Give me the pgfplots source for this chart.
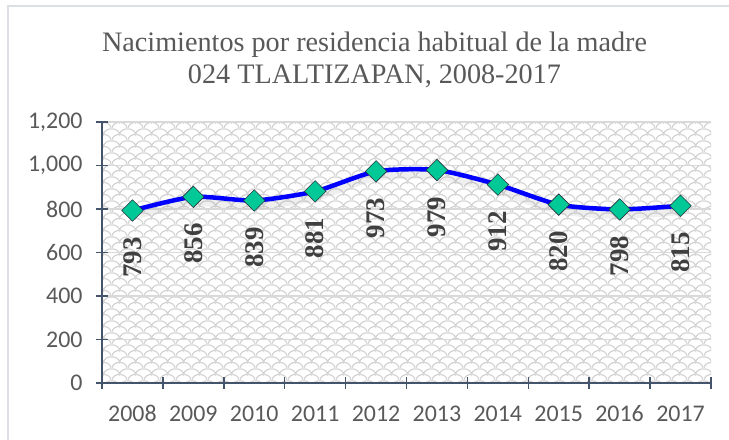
\documentclass[border=0pt]{standalone}
\usepackage{pgfplots}
\pgfplotsset{compat=1.18}
\usepackage{fontspec}
\setmainfont{Liberation Serif}
\newfontfamily\carlito{Carlito}
\usetikzlibrary{patterns.meta}
\definecolor{axisc}{RGB}{68,84,106}
\definecolor{txt}{RGB}{89,89,89}
\definecolor{lbl}{RGB}{64,64,64}
\definecolor{mk}{RGB}{0,200,150}
\definecolor{gridc}{RGB}{217,217,217}
\definecolor{hatch}{RGB}{212,212,212}
\definecolor{framec}{RGB}{220,224,230}

\pgfdeclarepattern{
  name=shingle, type=uncolored,
  bottom left={\pgfpoint{0bp}{0bp}},
  top right={\pgfpoint{16bp}{12bp}},
  tile size={\pgfpoint{16bp}{12bp}},
  code={
    \pgfsetlinewidth{1.3bp}
    \pgfpathmoveto{\pgfpoint{0bp}{0bp}}
    \pgfpathcurveto{\pgfpoint{1bp}{8bp}}{\pgfpoint{15bp}{8bp}}{\pgfpoint{16bp}{0bp}}
    \pgfpathmoveto{\pgfpoint{-8bp}{6bp}}
    \pgfpathcurveto{\pgfpoint{-7bp}{14bp}}{\pgfpoint{7bp}{14bp}}{\pgfpoint{8bp}{6bp}}
    \pgfpathcurveto{\pgfpoint{9bp}{14bp}}{\pgfpoint{23bp}{14bp}}{\pgfpoint{24bp}{6bp}}
    \pgfusepath{stroke}
  }
}

\pgfplotstableread{
year val
2008 793
2009 856
2010 839
2011 881
2012 973
2013 979
2014 912
2015 820
2016 798
2017 815
}\births

\begin{document}
\begin{tikzpicture}
\fill[white] (0,0) rectangle (729bp,440bp);
\path[use as bounding box] (0,0) rectangle (729bp,440bp);
\draw[framec, line width=1.5bp] (8bp,-20bp) rectangle (760bp,434bp);
\node[anchor=base, text=txt, font=\fontsize{28.3}{28.3}\selectfont] at (374.5bp,388bp) {Nacimientos por residencia habitual de la madre};
\node[anchor=base, text=txt, font=\fontsize{28.3}{28.3}\selectfont] at (374.5bp,356bp) {024 TLALTIZAPAN, 2008-2017};
\begin{axis}[
  at={(102bp,57bp)}, anchor=south west,
  width=609bp, height=261bp, scale only axis,
  xmin=2007.5, xmax=2017.5, ymin=0, ymax=1200,
  axis x line*=bottom, axis y line*=left,
  axis line style={-, draw=axisc, line width=1.5bp},
  axis background/.style={pattern=shingle, pattern color=hatch},
  ytick={0,200,...,1200},
  ymajorgrids, major grid style={gridc, line width=1.2bp},
  xtick={2007.5,2008.5,...,2017.5}, xticklabels={},
  extra x ticks={2008,2009,...,2017},
  extra x tick style={major tick length=0pt, xticklabel style={yshift=-19bp, /pgf/number format/1000 sep={}}},
  yticklabel style={xshift=-10bp},
  tick align=center, major tick length=12bp,
  tick style={axisc, line width=1.5bp},
  /pgf/number format/assume math mode=true,
  /pgf/number format/1000 sep={,},
  tick label style={font=\carlito\fontsize{24}{24}\selectfont, text=txt},
  clip=false,
]
\addplot[gray, opacity=0.12, line width=9bp, smooth, tension=0.4, yshift=-5bp, forget plot] table[x=year, y=val] {\births};
\addplot[blue, line width=4.5bp, smooth, tension=0.4,
  mark=square*, mark size=7.6bp,
  mark options={rotate=45, fill=mk, draw=axisc!60!black, line width=0.6bp},
  nodes near coords,
  every node near coord/.append style={yshift=-23bp, rotate=90, anchor=east, font=\bfseries\fontsize{27}{27}\selectfont, text=lbl},
] table[x=year, y=val] {\births};
\end{axis}
\end{tikzpicture}
\end{document}
